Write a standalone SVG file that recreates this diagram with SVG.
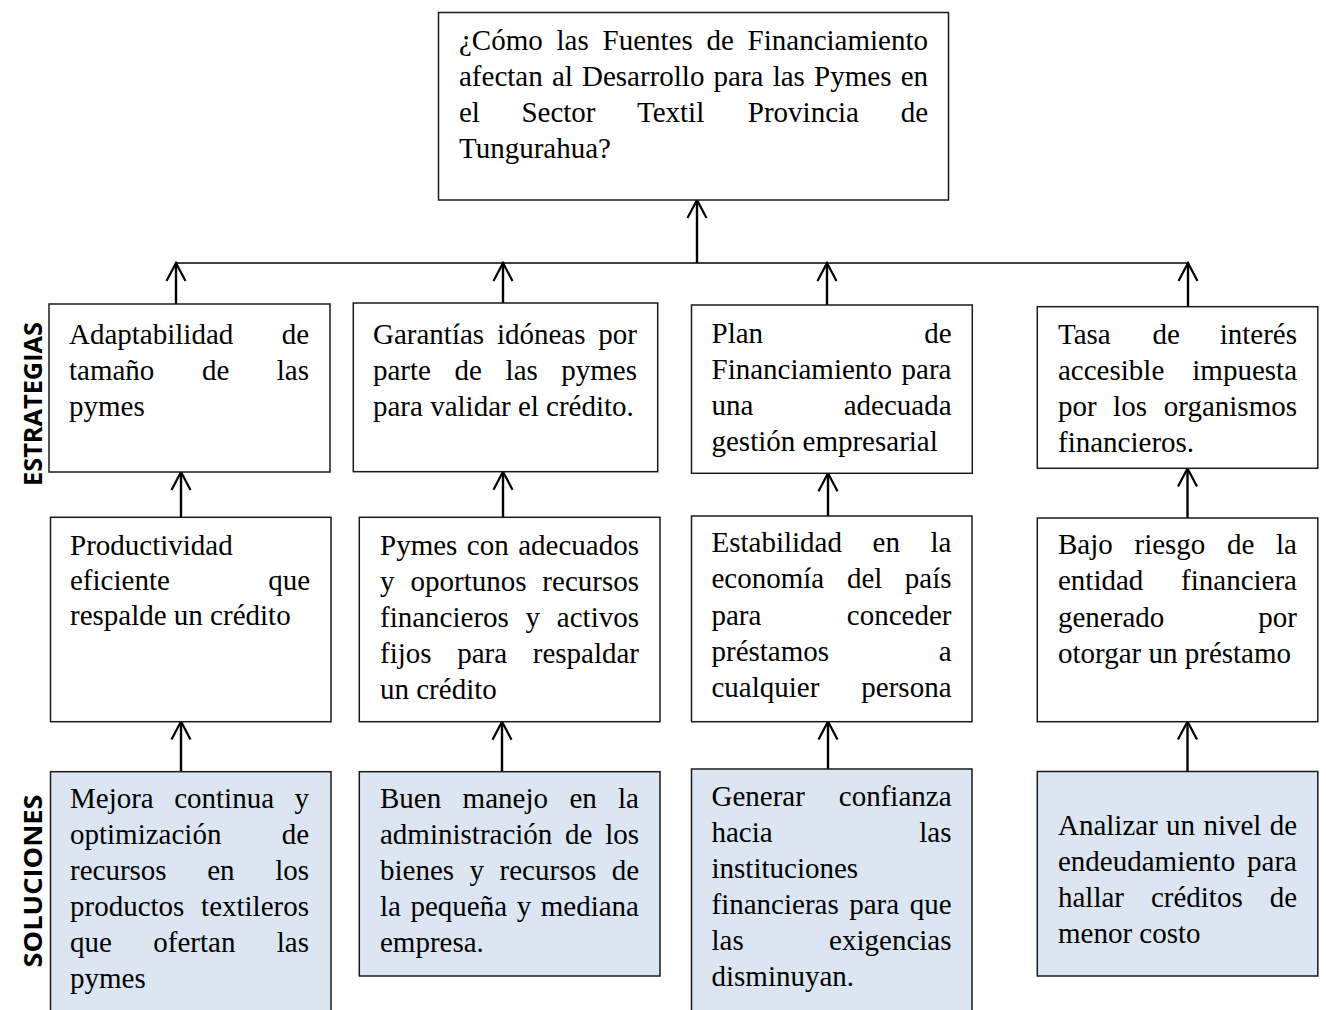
<svg xmlns="http://www.w3.org/2000/svg" width="1326" height="1010" viewBox="0 0 1326 1010">
<defs>
<style>
.box{fill:#fff;stroke:#1a1a1a;stroke-width:1.5}
.sol{fill:#DCE6F2}
.t{font-family:'Liberation Serif','Times New Roman',Times,serif;font-size:29px;fill:#000}
.e{text-anchor:end}
.lbl{font-family:'Open Sans','Liberation Sans',sans-serif;font-weight:700;font-size:25px;fill:#000;text-anchor:middle}
.stem{stroke:#000;stroke-width:2.4;fill:none;marker-end:url(#ah)}
.bus{stroke:#404040;stroke-width:2.2;fill:none}
</style>
<marker id="ah" markerUnits="userSpaceOnUse" markerWidth="22" markerHeight="24" viewBox="0 0 22 24" refX="20" refY="12" orient="auto">
<path d="M2,2.5 L20,12 L2,21.5" fill="none" stroke="#000" stroke-width="2.2"/>
</marker>
</defs>
<rect width="1326" height="1010" fill="#fff"/>

<g id="labels">
<text class="lbl" transform="translate(42,404) rotate(-90)" textLength="164" lengthAdjust="spacingAndGlyphs">ESTRATEGIAS</text>
<text class="lbl" transform="translate(42,881) rotate(-90)" textLength="173" lengthAdjust="spacingAndGlyphs">SOLUCIONES</text>
</g>

<g id="connectors">
<line class="bus" x1="175" y1="263" x2="1189" y2="263"/>
<line class="stem" x1="697" y1="263" x2="697" y2="200"/>
<line class="stem" x1="176" y1="304" x2="176" y2="263"/>
<line class="stem" x1="503" y1="303" x2="503" y2="263"/>
<line class="stem" x1="827" y1="305" x2="827" y2="263"/>
<line class="stem" x1="1188" y1="306.5" x2="1188" y2="263"/>
<line class="stem" x1="181" y1="517" x2="181" y2="472"/>
<line class="stem" x1="503" y1="517.3" x2="503" y2="471.7"/>
<line class="stem" x1="828" y1="516" x2="828" y2="473.3"/>
<line class="stem" x1="1187.5" y1="518" x2="1187.5" y2="468.5"/>
<line class="stem" x1="181" y1="771.5" x2="181" y2="721.5"/>
<line class="stem" x1="502" y1="771.7" x2="502" y2="721.7"/>
<line class="stem" x1="828" y1="769" x2="828" y2="721.5"/>
<line class="stem" x1="1187.5" y1="771.5" x2="1187.5" y2="721.5"/>
</g>

<g font-family="'Liberation Serif', 'Times New Roman', serif">
<g id="top">
<rect class="box" x="438.5" y="12.5" width="510" height="187.5"/>
<text class="t" y="50"><tspan x="459">¿Cómo</tspan><tspan x="556.5">las</tspan><tspan x="602.5">Fuentes</tspan><tspan x="706.5">de</tspan></text>
<text class="t e" x="928" y="50">Financiamiento</text>
<text class="t" y="86"><tspan x="459">afectan</tspan><tspan x="551.9">al</tspan><tspan x="582">Desarrollo</tspan><tspan x="713.6">para</tspan><tspan x="772.7">las</tspan><tspan x="814.1">Pymes</tspan></text>
<text class="t e" x="928" y="86">en</text>
<text class="t" y="122"><tspan x="459">el</tspan><tspan x="521.4">Sector</tspan><tspan x="637">Textil</tspan><tspan x="747.8">Provincia</tspan></text>
<text class="t e" x="928" y="122">de</text>
<text class="t" x="459" y="158">Tungurahua?</text>
</g>

<g id="e1">
<rect class="box" x="49" y="304" width="281" height="168"/>
<text class="t" x="69" y="344">Adaptabilidad</text>
<text class="t e" x="309" y="344">de</text>
<text class="t" y="380"><tspan x="69">tamaño</tspan><tspan x="201.9">de</tspan></text>
<text class="t e" x="309" y="380">las</text>
<text class="t" x="69" y="416">pymes</text>
</g>

<g id="e2">
<rect class="box" x="353.3" y="303" width="304.4" height="168.7"/>
<text class="t" y="344"><tspan x="373">Garantías</tspan><tspan x="496.9">idóneas</tspan></text>
<text class="t e" x="637" y="344">por</text>
<text class="t" y="380"><tspan x="373">parte</tspan><tspan x="454.6">de</tspan><tspan x="505.6">las</tspan></text>
<text class="t e" x="637" y="380">pymes</text>
<text class="t" x="373" y="416">para validar el crédito.</text>
</g>

<g id="e3">
<rect class="box" x="691.5" y="305" width="280.8" height="168.3"/>
<text class="t" x="711.5" y="343">Plan</text>
<text class="t e" x="951.5" y="343">de</text>
<text class="t" x="711.5" y="379">Financiamiento</text>
<text class="t e" x="951.5" y="379">para</text>
<text class="t" x="711.5" y="415">una</text>
<text class="t e" x="951.5" y="415">adecuada</text>
<text class="t" x="711.5" y="451">gestión empresarial</text>
</g>

<g id="e4">
<rect class="box" x="1037.3" y="306.7" width="280.5" height="161.6"/>
<text class="t" y="344"><tspan x="1058">Tasa</tspan><tspan x="1152.5">de</tspan></text>
<text class="t e" x="1297" y="344">interés</text>
<text class="t" x="1058" y="380">accesible</text>
<text class="t e" x="1297" y="380">impuesta</text>
<text class="t" y="416"><tspan x="1058">por</tspan><tspan x="1113.1">los</tspan></text>
<text class="t e" x="1297" y="416">organismos</text>
<text class="t" x="1058" y="452">financieros.</text>
</g>

<g id="m1">
<rect class="box" x="50.5" y="517.3" width="280.5" height="204.4"/>
<text class="t" x="70" y="555">Productividad</text>
<text class="t" x="70" y="590">eficiente</text>
<text class="t e" x="310" y="590">que</text>
<text class="t" x="70" y="625">respalde un crédito</text>
</g>

<g id="m2">
<rect class="box" x="359.3" y="517.3" width="300.7" height="204.4"/>
<text class="t" y="555"><tspan x="380">Pymes</tspan><tspan x="466.8">con</tspan></text>
<text class="t e" x="639" y="555">adecuados</text>
<text class="t" y="591"><tspan x="380">y</tspan><tspan x="410.5">oportunos</tspan></text>
<text class="t e" x="639" y="591">recursos</text>
<text class="t" y="627"><tspan x="380">financieros</tspan><tspan x="525.5">y</tspan></text>
<text class="t e" x="639" y="627">activos</text>
<text class="t" y="663"><tspan x="380">fijos</tspan><tspan x="457.2">para</tspan></text>
<text class="t e" x="639" y="663">respaldar</text>
<text class="t" x="380" y="699">un crédito</text>
</g>

<g id="m3">
<rect class="box" x="691.5" y="516" width="280.5" height="205.7"/>
<text class="t" y="552"><tspan x="711.5">Estabilidad</tspan><tspan x="872.6">en</tspan></text>
<text class="t e" x="951.5" y="552">la</text>
<text class="t" y="588"><tspan x="711.5">economía</tspan><tspan x="846.9">del</tspan></text>
<text class="t e" x="951.5" y="588">país</text>
<text class="t" x="711.5" y="625">para</text>
<text class="t e" x="951.5" y="625">conceder</text>
<text class="t" x="711.5" y="661">préstamos</text>
<text class="t e" x="951.5" y="661">a</text>
<text class="t" x="711.5" y="697">cualquier</text>
<text class="t e" x="951.5" y="697">persona</text>
</g>

<g id="m4">
<rect class="box" x="1037.3" y="518" width="280.5" height="203.7"/>
<text class="t" y="554"><tspan x="1058">Bajo</tspan><tspan x="1134.5">riesgo</tspan><tspan x="1227.1">de</tspan></text>
<text class="t e" x="1297" y="554">la</text>
<text class="t" x="1058" y="590">entidad</text>
<text class="t e" x="1297" y="590">financiera</text>
<text class="t" x="1058" y="626.5">generado</text>
<text class="t e" x="1297" y="626.5">por</text>
<text class="t" x="1058" y="662.5">otorgar un préstamo</text>
</g>

<g id="s1">
<rect class="box sol" x="50.5" y="771.7" width="280.5" height="260"/>
<text class="t" y="808"><tspan x="70">Mejora</tspan><tspan x="174.2">continua</tspan></text>
<text class="t e" x="309" y="808">y</text>
<text class="t" x="70" y="844">optimización</text>
<text class="t e" x="309" y="844">de</text>
<text class="t" y="880"><tspan x="70">recursos</tspan><tspan x="207.2">en</tspan></text>
<text class="t e" x="309" y="880">los</text>
<text class="t" x="70" y="916">productos</text>
<text class="t e" x="309" y="916">textileros</text>
<text class="t" y="952"><tspan x="70">que</tspan><tspan x="153.3">ofertan</tspan></text>
<text class="t e" x="309" y="952">las</text>
<text class="t" x="70" y="988">pymes</text>
</g>

<g id="s2">
<rect class="box sol" x="359.3" y="771.7" width="300.7" height="204.3"/>
<text class="t" y="808"><tspan x="380">Buen</tspan><tspan x="462.6">manejo</tspan><tspan x="569.4">en</tspan></text>
<text class="t e" x="639" y="808">la</text>
<text class="t" y="844"><tspan x="380">administración</tspan><tspan x="565.1">de</tspan></text>
<text class="t e" x="639" y="844">los</text>
<text class="t" y="880"><tspan x="380">bienes</tspan><tspan x="469.6">y</tspan><tspan x="499.6">recursos</tspan></text>
<text class="t e" x="639" y="880">de</text>
<text class="t" y="916"><tspan x="380">la</tspan><tspan x="410.5">pequeña</tspan><tspan x="516.7">y</tspan></text>
<text class="t e" x="639" y="916">mediana</text>
<text class="t" x="380" y="952">empresa.</text>
</g>

<g id="s3">
<rect class="box sol" x="691.5" y="769" width="280.5" height="260"/>
<text class="t" x="711.5" y="806">Generar</text>
<text class="t e" x="951.5" y="806">confianza</text>
<text class="t" x="711.5" y="842">hacia</text>
<text class="t e" x="951.5" y="842">las</text>
<text class="t" x="711.5" y="878">instituciones</text>
<text class="t" y="914"><tspan x="711.5">financieras</tspan><tspan x="849.2">para</tspan></text>
<text class="t e" x="951.5" y="914">que</text>
<text class="t" x="711.5" y="950">las</text>
<text class="t e" x="951.5" y="950">exigencias</text>
<text class="t" x="711.5" y="986">disminuyan.</text>
</g>

<g id="s4">
<rect class="box sol" x="1037.3" y="771.5" width="280.5" height="204.5"/>
<text class="t" y="835"><tspan x="1058">Analizar</tspan><tspan x="1166.1">un</tspan><tspan x="1203.4">nivel</tspan></text>
<text class="t e" x="1297" y="835">de</text>
<text class="t" x="1058" y="871">endeudamiento</text>
<text class="t e" x="1297" y="871">para</text>
<text class="t" y="907"><tspan x="1058">hallar</tspan><tspan x="1150.9">créditos</tspan></text>
<text class="t e" x="1297" y="907">de</text>
<text class="t" x="1058" y="943">menor costo</text>
</g>
</g>
</svg>
